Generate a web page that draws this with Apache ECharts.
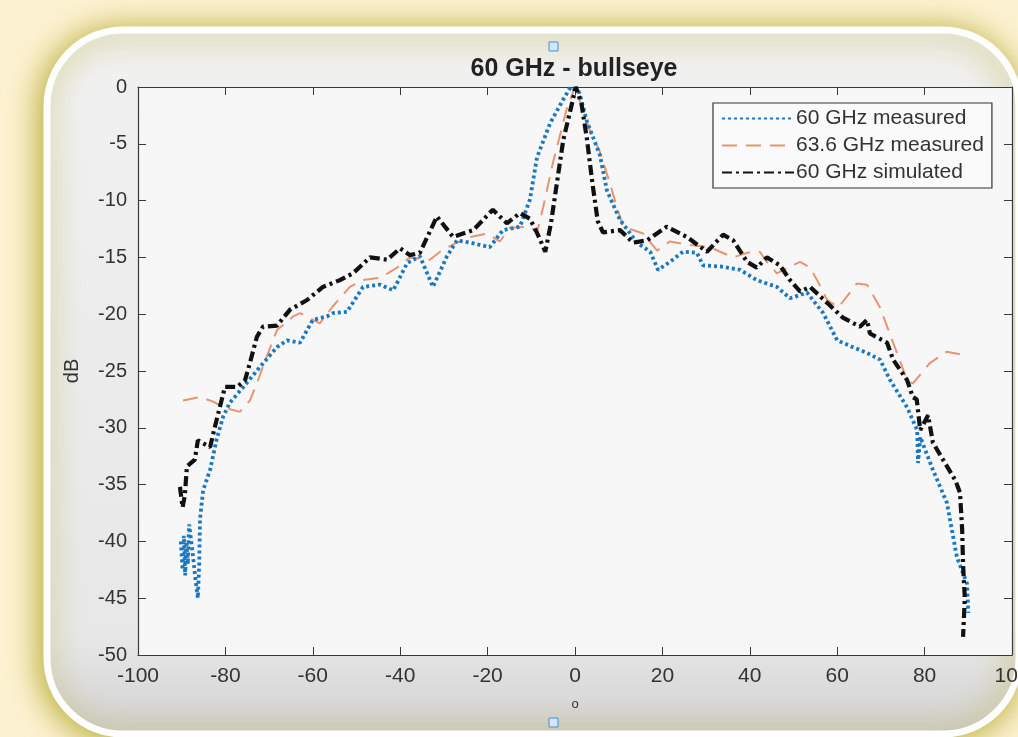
<!DOCTYPE html>
<html><head><meta charset="utf-8">
<script src="https://cdn.jsdelivr.net/npm/echarts@6/dist/echarts.min.js"></script>
<style>html,body{margin:0;padding:0;background:#FCF1D0;}#c{width:1018px;height:737px;}</style>
</head><body><div id="c"></div>
<script>
// 60 GHz measured (blue dotted)
var meas60X = [-90.2,-89.8,-89.5,-89.2,-88.9,-88.6,-88.3,-87.5,-86.8,-86.3,-86,-85.8,-85.1,-83.5,-82,-80.5,-79,-75,-72,-68.2,-65.9,-62.9,-60,-56.8,-55.4,-52.2,-48.5,-44.6,-41.6,-38.4,-35.5,-32.5,-29.3,-27,-24,-19.5,-16.5,-12.6,-10.3,-8.7,-5.7,-2.7,-1,1,2.7,5.7,7.3,10.3,14.2,17.2,19,21.7,24.7,27.9,29.3,33.2,37.8,41.6,46.2,49.2,53.1,56.8,60,63.6,66.8,69.8,72.1,76,78.3,78.5,79,81.9,85.1,87.4,89.7,90];
var meas60Y = [-40,-42.5,-39.5,-43,-40,-42,-38.5,-41,-43.5,-45,-42,-38,-35.5,-33.7,-31,-29,-27.8,-26,-24.6,-22.9,-22.3,-22.5,-20.5,-20.2,-19.9,-19.8,-17.6,-17.4,-17.9,-15.5,-14.9,-17.6,-14.9,-13.5,-13.7,-14.1,-12.6,-12.3,-9.9,-6.2,-3.2,-1.1,0,-0.5,-3,-6,-9.1,-11.7,-13.7,-14.5,-16.1,-15.4,-14.5,-14.6,-15.7,-15.8,-16.1,-17,-17.6,-18.6,-18.1,-19.9,-22.3,-22.9,-23.4,-24,-25.8,-28.2,-30.2,-33.1,-30.8,-33.7,-36.6,-41.4,-43.7,-46.3];
// 63.6 GHz measured (orange dashed)
var meas636X = [-89.7,-85.8,-82.8,-80.5,-76.7,-74.4,-72.8,-71.4,-68.2,-64.5,-62.9,-58.4,-55.4,-51.5,-48.5,-44.6,-40.7,-37.8,-33.2,-30.2,-27,-24,-20.1,-17.2,-14.9,-10.3,-8.7,-7.3,-5,-1.8,0,1.8,4,5.5,8,9.6,11,15.6,18.8,21.7,26.3,30.9,33.2,36.2,39.4,42.3,43.9,46.2,49.2,51.5,53.8,55.4,57.7,60.3,64.5,66.8,69.8,72.8,76,77.3,81.2,85.1,89.2];
var meas636Y = [-27.6,-27.3,-27.7,-28.2,-28.6,-27.6,-26.1,-24.6,-21.4,-20.2,-19.9,-20.8,-19.3,-17.6,-17,-16.8,-15.9,-15,-15.2,-14.3,-13.7,-13.2,-12.9,-13.6,-12.4,-12.3,-12.8,-10.6,-6.6,-1.8,0,-2,-4.5,-5.5,-8.5,-10.6,-12.3,-12.9,-14.4,-13.6,-13.9,-14.1,-14.5,-15,-14.6,-14.5,-15.4,-16.4,-15.8,-15.4,-15.9,-17,-18.75,-19.4,-17.3,-17.4,-19.4,-22.5,-25.8,-26.1,-24.3,-23.3,-23.6];
// 60 GHz simulated (black dash-dot)
var sim60X = [-90.4,-89.8,-89.3,-88.8,-87,-86.3,-83.5,-82.4,-80.1,-77.3,-75.5,-74.4,-72.8,-71.4,-68.2,-65.2,-61.3,-57.7,-53.8,-50.8,-46.9,-43,-40,-37.8,-35.5,-31.6,-27.9,-23.3,-18.8,-15.6,-12.6,-10.3,-8.5,-6.8,-5.5,-2.7,0.2,1.5,2.7,4,5.2,6.4,10.3,13.3,16.5,21,25.6,30.2,33.9,36.2,39.4,41.6,43.9,46.9,49.2,51.5,53.8,57.7,61.3,65.2,66.8,67.5,71.4,72.8,76,77.3,78.2,79,80.8,81.9,84.2,87,88.1,88.6,88.8,89.2,88.8];
var sim60Y = [-35.2,-37,-36,-33.4,-32.8,-31.1,-31.7,-29.9,-26.4,-26.4,-25.8,-24.3,-22,-21.1,-21,-19.6,-18.75,-17.6,-17,-16.4,-15,-15.2,-14.2,-14.8,-14.6,-11.4,-13.2,-12.6,-10.8,-12,-11.1,-11.6,-13,-14.5,-12,-4.7,0,-1.5,-4.5,-8.5,-11.8,-12.8,-12.6,-13.7,-13.5,-12.3,-13.2,-14.5,-13,-13.5,-15.4,-15.9,-15,-15.7,-17,-18,-17.6,-19,-20.3,-21.1,-20.5,-21.7,-22.5,-24,-25.8,-27.3,-27.5,-30.2,-28.9,-31.3,-32.8,-34.6,-35.7,-39,-42,-45,-48.4];
var seriesNames = ['60 GHz measured','63.6 GHz measured','60 GHz simulated'];
var xTicks = {min:-100, max:100, step:20};
var yTicks = {min:-50, max:0, step:5};

function pairs(xs, ys){ return xs.map(function(x,i){ return [x, ys[i]]; }); }

var FONT = 'Liberation Sans, Arial, sans-serif';
var chart = echarts.init(document.getElementById('c'), null, {renderer:'canvas'});
var axisCol = '#3a3a3a';
var opt = {
  backgroundColor: '#FCF1D0',
  animation: false,
  graphic: [
    {type:'rect', z:-20, shape:{x:47,y:30,width:972,height:704,r:76},
     style:{fill:{type:'linear',x:0,y:0,x2:0,y2:1,colorStops:[{offset:0,color:'#F1F1F1'},{offset:0.86,color:'#E7E7E7'},{offset:1,color:'#D0D0D0'}]},
       stroke:'#FFFFFF', lineWidth:7, shadowBlur:30, shadowColor:'rgba(175,165,35,0.95)', shadowOffsetX:-3, shadowOffsetY:3}},
    {type:'rect', z:10, shape:{x:549,y:42,width:9,height:9}, style:{fill:'#D2E6F7', stroke:'#4C8FD0', lineWidth:1}},
    {type:'rect', z:10, shape:{x:549,y:718,width:9,height:9}, style:{fill:'#D2E6F7', stroke:'#4C8FD0', lineWidth:1}},
    {type:'text', z:10, style:{x:575, y:704, text:'o', fill:'#333', font:'13px '+FONT, textAlign:'center', textVerticalAlign:'middle'}},
    {type:'text', z:10, rotation:Math.PI/2, x:72, y:371, style:{x:0,y:0,text:'dB', fill:'#333', font:'20px '+FONT, textAlign:'center', textVerticalAlign:'middle'}},
    {type:'text', z:10, style:{x:574, y:69, text:'60 GHz - bullseye', fill:'#222', font:'bold 25px '+FONT, textAlign:'center', textVerticalAlign:'middle'}}
  ],
  grid: {left:138, right:6, top:87, bottom:82, show:true, backgroundColor:'#F7F7F7', borderWidth:0, containLabel:false, outerBoundsMode:'none'},
  legend: {
    orient:'vertical', left:713, top:103, itemWidth:72, itemHeight:14, itemGap:6,
    padding:[5,8,5,8], backgroundColor:'#FAFAFA', borderColor:'#333', borderWidth:1.2,
    itemStyle:{color:'rgba(0,0,0,0)', borderWidth:0, opacity:0},
    textStyle:{fontFamily:FONT, fontSize:21, color:'#333', padding:[0,0,0,-3]},
    data: seriesNames
  },
  xAxis: [
    {type:'value', min:xTicks.min, max:xTicks.max, interval:xTicks.step, position:'bottom',
     axisLine:{show:true, onZero:false, lineStyle:{color:axisCol, width:1.2}},
     axisTick:{show:true, inside:true, length:8, lineStyle:{color:axisCol}},
     axisLabel:{fontFamily:FONT, fontSize:21, color:'#333', margin:11},
     splitLine:{show:false}},
    {type:'value', min:xTicks.min, max:xTicks.max, interval:xTicks.step, position:'top',
     axisLine:{show:true, onZero:false, lineStyle:{color:axisCol, width:1.2}},
     axisTick:{show:true, inside:true, length:8, lineStyle:{color:axisCol}},
     axisLabel:{show:false}, splitLine:{show:false}}
  ],
  yAxis: [
    {type:'value', min:yTicks.min, max:yTicks.max, interval:yTicks.step, position:'left',
     axisLine:{show:true, onZero:false, lineStyle:{color:axisCol, width:1.2}},
     axisTick:{show:true, inside:true, length:8, lineStyle:{color:axisCol}},
     axisLabel:{fontFamily:FONT, fontSize:20, color:'#333', margin:11},
     splitLine:{show:false}},
    {type:'value', min:yTicks.min, max:yTicks.max, interval:yTicks.step, position:'right',
     axisLine:{show:true, onZero:false, lineStyle:{color:axisCol, width:1.2}},
     axisTick:{show:true, inside:true, length:8, lineStyle:{color:axisCol}},
     axisLabel:{show:false}, splitLine:{show:false}}
  ],
  series: [
    {name:seriesNames[0], type:'line', showSymbol:false, symbol:'none', data:pairs(meas60X, meas60Y),
     lineStyle:{color:'#1A78C2', width:3.8, type:[3,3]}, itemStyle:{color:'#1A78C2'}, z:3},
    {name:seriesNames[1], type:'line', showSymbol:false, symbol:'none', data:pairs(meas636X, meas636Y),
     lineStyle:{color:'#E89470', width:2, type:[15,9]}, itemStyle:{color:'#E89470'}, z:2},
    {name:seriesNames[2], type:'line', showSymbol:false, symbol:'none', data:pairs(sim60X, sim60Y),
     lineStyle:{color:'#111111', width:4.2, type:[10,4,3,4]}, itemStyle:{color:'#111111'}, z:4}
  ]
};
chart.setOption(opt);
</script></body></html>
